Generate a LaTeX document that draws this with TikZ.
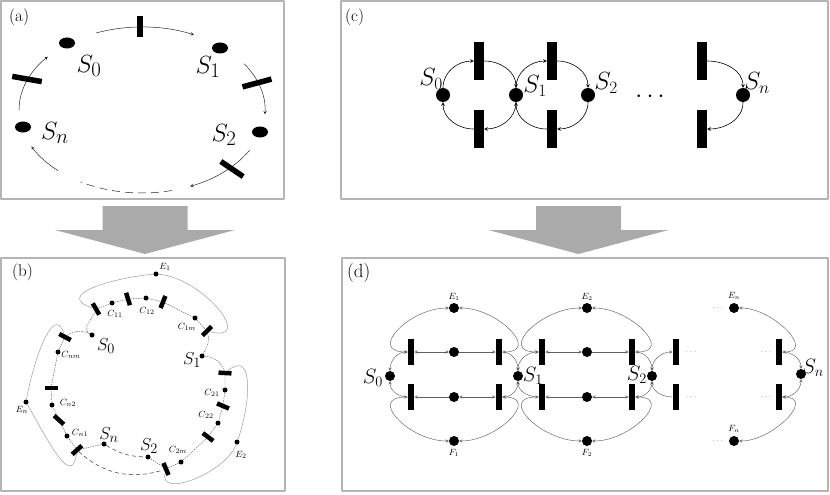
\documentclass[tikz,border=0pt]{standalone}
\usetikzlibrary{calc,shapes.geometric}
\definecolor{framegray}{RGB}{180,180,180}
\definecolor{blockgray}{RGB}{170,170,170}
\definecolor{wiregray}{RGB}{95,95,95}
\definecolor{loopgray}{RGB}{150,150,150}
\begin{document}
\begin{tikzpicture}[x=1pt, y=-1pt, line join=round, >=stealth,
  frame/.style={draw=framegray, line width=2pt},
  tag/.style={anchor=north west, inner sep=0pt},
  labA/.style={inner sep=0pt, font=\fontsize{28}{30}\selectfont},
  labB/.style={inner sep=0pt, font=\fontsize{19}{21}\selectfont},
  labC/.style={inner sep=0pt, font=\fontsize{23}{25}\selectfont},
  labD/.style={inner sep=0pt, font=\fontsize{20}{22}\selectfont},
  subB/.style={inner sep=0pt, font=\fontsize{9.5}{10}\selectfont},
  subD/.style={inner sep=0pt, font=\fontsize{9}{10}\selectfont},
  blob/.style={ellipse, fill, inner sep=0pt, minimum width=16pt, minimum height=11pt},
  token/.style={circle, fill, inner sep=0pt, minimum size=#1},
  barA/.style={fill, inner sep=0pt, minimum height=5.5pt, minimum width=#1},
  barB/.style={fill, inner sep=0pt, minimum height=4.5pt, minimum width=13pt},
  barC/.style={fill, inner sep=0pt, minimum width=10pt, minimum height=38pt},
  barD/.style={fill, inner sep=0pt, minimum width=6.5pt, minimum height=26pt},
  wireA/.style={black!85, line width=0.5pt},
  wireC/.style={black, line width=0.6pt},
  wireD/.style={wiregray, line width=0.45pt},
  ringB/.style={wiregray, line width=0.45pt, dash pattern=on 1.5pt off 1pt},
  loopB/.style={loopgray, line width=0.45pt},
  gapB/.style={black!80, line width=0.5pt, dash pattern=on 4pt off 3pt}]
\useasboundingbox (0,0) rectangle (830,495);

% frames and the two block arrows
\draw[frame] (1,1) rectangle (284,199);
\draw[frame] (341,1) rectangle (828,199);
\draw[frame] (1,258) rectangle (285,491);
\draw[frame] (342,258) rectangle (828,491);
\foreach \cx in {145,578.5}
  \fill[blockgray] ({\cx-42.5},206) -- ({\cx+42.5},206) -- ({\cx+42.5},230) -- ({\cx+90},230)
    -- (\cx,254) -- ({\cx-90},230) -- ({\cx-42.5},230) -- cycle;
\node[tag, font=\fontsize{17}{19}\selectfont] (tagA) at (9,9) {(a)};
\node[tag, font=\fontsize{17}{19}\selectfont] (tagB) at (12,264) {(b)};
\node[tag, font=\fontsize{17}{19}\selectfont] (tagC) at (345,9) {(c)};
\node[tag, font=\fontsize{19}{21}\selectfont] (tagD) at (347,263) {(d)};

% (a)
\coordinate (ca) at (142,110);
\foreach \n/\x/\y in {a0/67/43, a1/220/48, a2/260/132, an/23/127}
  \node[blob] (\n) at (\x,\y) {};
\foreach \n/\x/\y/\s in {la0/89/66/0, la1/208/67/1, la2/224/135/2, lan/55/133/n}
  \node[labA] (\n) at (\x,\y) {$S_\s$};
\foreach \a/\b in {112/65, 34/-3, -29/-67, -133/-154, 180/140}
  \draw[wireA,->] ($(ca)+(\a:123pt and 83pt)$) arc[start angle=\a, end angle=\b, x radius=123pt, y radius=83pt];
\draw[wireA, dash pattern=on 8pt off 5pt] ($(ca)+(-76:123pt and 83pt)$) arc[start angle=-76, end angle=-120, x radius=123pt, y radius=83pt];
\foreach \n/\x/\y/\l/\r in {ta1/140/27/21/90, ta2/257/83/30/15, ta3/27/79/30/-10, ta4/232/169/27/-34}
  \node[barA=\l, rotate=\r] (\n) at (\x,\y) {};

% (b)
\foreach \n/\x/\y in {s0b/92/335, c11/112/303, c12/146/298, c1m/195/318, s1b/202/356,
    c21/225/390, c22/218/423, c2m/181/462, s2b/148/457, snb/104/444,
    cn1/67/436, cn2/52/405, cnm/58/352, e1b/156/274, e2b/237/442, enb/26/402}
  \node[token=5pt] (\n) at (\x,\y) {};
\foreach \n/\x/\y/\r in {t11/96/309/-60, t12/128/299/-73, t13/163/302/68, t14/207/331/45,
    t21/225/373/-3, t22/223/406/-23, t23/208/437/-37, t24/166/469/-67,
    tn1/77/450/42, tn2/59/420/-42, tn3/51/388/0, tn4/65/337/-28}
  \node[barB, rotate=\r] (\n) at (\x,\y) {};
\draw[ringB] (s0b) to[out=150,in=-100] (t11) -- (c11) -- (t12) -- (c12) -- (t13) -- (c1m) -- (t14)
  to[out=-85,in=60] (s1b) to[out=-5,in=110] (t21) -- (c21) -- (t22) -- (c22) -- (t23) -- (c2m) -- (t24) -- (s2b);
\draw[ringB] (snb) -- (tn1) -- (cn1) -- (tn2) -- (cn2) -- (tn3) -- (cnm) -- (tn4) to[bend left=30] (s0b);
\draw[gapB] (snb) to[bend right=15] (s2b);
\draw[gapB] (tn1) to[bend right=30] (t24);
\draw[loopB] (t11) to[out=170,in=185,looseness=1.6] (e1b) to[out=-5,in=-20,looseness=1.5] (t14);
\draw[loopB] (t21) to[out=40,in=70,looseness=1.3] (e2b) to[out=-110,in=-100,looseness=1] (t24);
\draw[loopB] (tn1) to[out=-100,in=-60,looseness=1.4] (enb) to[out=80,in=110,looseness=1.2] (tn4);
\foreach \n/\x/\y/\s in {ls0/106/346/S_0, ls1/192/360/S_1, ls2/149/446/S_2, lsn/109/435/S_n}
  \node[labB] (\n) at (\x,\y) {$\s$};
\foreach \n/\x/\y/\s in {lc11/115/314/C_{11}, lc12/147/311/C_{12}, lc1m/187/327/C_{1m},
    lc21/212/393/C_{21}, lc22/206/415/C_{22}, lc2m/178/450/C_{2m},
    lcn1/80/433/C_{n1}, lcn2/68/403/C_{n2}, lcnm/71/355/C_{nm},
    le1/165/267/E_1, le2/241/455/E_2, len/22/410/E_n}
  \node[subB] (\n) at (\x,\y) {$\s$};

% (c)
\foreach \n/\x in {c0/443, c1/516, c2/588, cn/743}
  \node[token=14pt] (\n) at (\x,95) {};
\foreach \n/\x in {1/479, 2/552, n/702} {
  \node[barC] (cu\n) at (\x,61) {};
  \node[barC] (cd\n) at (\x,129) {};
}
\draw[wireC,->] (c0) to[out=90,in=180] (cu1.west);
\draw[wireC,->] (cu1.east) to[out=0,in=90] (c1);
\draw[wireC,->] (c1) to[out=90,in=180] (cu2.west);
\draw[wireC,->] (cu2.east) to[out=0,in=90] (c2);
\draw[wireC,->] (cun.east) to[out=0,in=90] (cn);
\draw[wireC,->] (c1) to[out=-90,in=0] (cd1.east);
\draw[wireC,->] (cd1.west) to[out=180,in=-90] (c0);
\draw[wireC,->] (c2) to[out=-90,in=0] (cd2.east);
\draw[wireC,->] (cd2.west) to[out=180,in=-90] (c1);
\draw[wireC,->] (cn) to[out=-90,in=0] (cdn.east);
\foreach \n/\x/\y/\s in {lc0/431/79/0, lc1/535/86/1, lc2/606/83/2, lcn/757/83/n}
  \node[labC] (\n) at (\x,\y) {$S_\s$};
\node[labC] (cdots) at (650,97) {$\cdots$};

% (d)
\foreach \n/\x/\y in {d0/390/376, d1/518/376, d2/652/376, dn/801/374, en/734/308, fn/734/441}
  \node[token=10pt] (\n) at (\x,\y) {};
\foreach \n/\x in {1/411, 2/499, 3/542, 4/632, 5/676, 6/779} {
  \node[barD] (bu\n) at (\x,352) {};
  \node[barD] (bd\n) at (\x,397) {};
}
\foreach \ch/\x in {1/454, 2/587} {
  \node[token=10pt] (mu\ch) at (\x,352) {};
  \node[token=10pt] (md\ch) at (\x,397) {};
  \node[token=10pt] (e\ch) at (\x,308) {};
  \node[token=10pt] (f\ch) at (\x,441) {};
  \node[subD] (le\ch) at (\x,297) {$E_\ch$};
  \node[subD] (lf\ch) at (\x,453) {$F_\ch$};
}
\foreach \i/\j/\ch/\sa/\sb in {1/2/1/d0/d1, 3/4/2/d1/d2} {
  \draw[wireD,<->] (bu\i) -- (mu\ch);
  \draw[wireD,->] (mu\ch) -- (bu\j);
  \draw[wireD,<-] (bd\i) -- (md\ch);
  \draw[wireD,<->] (md\ch) -- (bd\j);
  \draw[wireD,<->] (bu\i.west) to[out=180,in=180,looseness=1.7] (e\ch);
  \draw[wireD,<->] (e\ch) to[out=0,in=0,looseness=1.6] (bu\j.east);
  \draw[wireD,<->] (bd\i.west) to[out=180,in=180,looseness=1.7] (f\ch);
  \draw[wireD,<->] (f\ch) to[out=0,in=0,looseness=1.6] (bd\j.east);
  \draw[wireD,<->] (\sa) to[out=90,in=180] (bu\i.west);
  \draw[wireD,->] (bd\i.west) to[out=180,in=-90] (\sa);
  \draw[wireD,->] (bu\j.east) to[out=0,in=90] (\sb);
  \draw[wireD,<->] (\sb) to[out=-90,in=0] (bd\j.east);
}
\draw[wireD,<->] (d2) to[out=90,in=180] (bu5.west);
\draw[wireD,->] (bd5.west) to[out=180,in=-90] (d2);
\draw[wireD,->] (bu6.east) to[out=0,in=90] (dn);
\draw[wireD,<->] (dn) to[out=-90,in=0] (bd6.east);
\draw[wireD,<->] (en) to[out=0,in=0,looseness=1.4] (bu6.east);
\draw[wireD,<->] (fn) to[out=0,in=0,looseness=1.4] (bd6.east);
\foreach \n/\x/\y/\s in {ld0/373/378/0, ld1/533/376/1, ld2/637/375/2, ldn/813/368/n}
  \node[labD] (\n) at (\x,\y) {$S_\s$};
\node[subD] (len) at (734,296) {$E_n$};
\node[subD] (lfn) at (734,429) {$F_n$};
\foreach \n/\x/\y in {dt1/718/308, dt2/718/441, dt3/691/352, dt4/691/397, dt5/766/352, dt6/766/397}
  \node[subD, wiregray] (\n) at (\x,\y) {$\cdots$};
\end{tikzpicture}
\end{document}
